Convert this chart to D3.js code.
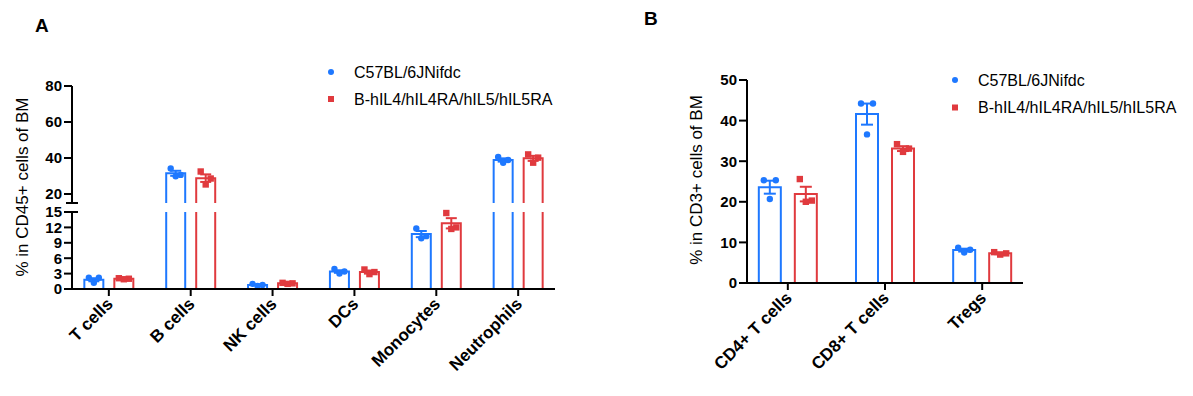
<!DOCTYPE html>
<html>
<head>
<meta charset="utf-8">
<script src="https://cdn.jsdelivr.net/npm/d3@7"></script>
<style>
  html, body { margin: 0; padding: 0; background: #fff; }
  svg { display: block; font-family: "Liberation Sans", Arial, sans-serif; }
  .tick-label { font-size: 15px; font-weight: bold; fill: #000; }
  .cat-label { font-size: 17px; font-weight: bold; fill: #000; }
  .axis-title { font-size: 17px; fill: #000; }
  .legend-text { font-size: 16px; fill: #000; }
  .panel-label { font-size: 19px; font-weight: bold; fill: #000; }
</style>
</head>
<body>
<svg id="chart" width="1193" height="396"></svg>
<script>
/* ──────────────────────────────────────────────
   Bone marrow immune subsets, two strains
   Bars = mean, whiskers = SEM, dots = mice
   ────────────────────────────────────────────── */

const seriesNames = ['C57BL/6JNifdc', 'B-hIL4/hIL4RA/hIL5/hIL5RA'];
const seriesColors = ['#1e78ff', '#e03a3e'];

// Panel A — % in CD45+ cells
const catsA = ['T cells', 'B cells', 'NK cells', 'DCs', 'Monocytes', 'Neutrophils'];
const meanA_wt = [1.8, 31.5, 0.8, 3.4, 10.7, 38.9];
const semA_wt  = [0.3, 1.4, 0.1, 0.25, 0.6, 0.9];
const ptsA_wt  = [[2.2, 2.2, 1.2], [34.2, 30.6, 29.8], [1.0, 0.8, 0.6], [3.9, 3.4, 3.0], [11.8, 10.3, 9.9], [40.6, 38.9, 37.3]];
const meanA_ko = [2.0, 28.8, 1.1, 3.3, 12.8, 39.8];
const semA_ko  = [0.1, 2.1, 0.1, 0.3, 1.0, 1.4];
const ptsA_ko  = [[2.1, 2.0, 1.9], [32.5, 28.6, 25.3], [1.2, 1.1, 1.0], [3.8, 3.3, 2.9], [14.8, 12.0, 11.7], [42.0, 40.2, 37.4]];
const ticksA_low  = [0, 3, 6, 9, 12, 15];
const ticksA_high = [20, 40, 60, 80];

// Panel B — % in CD3+ cells
const catsB = ['CD4+ T cells', 'CD8+ T cells', 'Tregs'];
const meanB_wt = [23.6, 41.6, 8.1];
const semB_wt  = [1.6, 2.6, 0.35];
const ptsB_wt  = [[25.3, 25.3, 20.7], [44.2, 44.2, 36.6], [8.7, 8.2, 7.5]];
const meanB_ko = [21.9, 33.1, 7.3];
const semB_ko  = [1.8, 0.6, 0.2];
const ptsB_ko  = [[25.6, 20.3, 20.0], [34.2, 33.1, 32.3], [7.6, 7.3, 7.0]];
const ticksB = [0, 10, 20, 30, 40, 50];

const svg = d3.select('#chart');
const LW = 2;

function buildGroups(cats, wtMean, wtSem, wtPts, koMean, koSem, koPts) {
  return cats.map((c, i) => ({
    cat: c,
    series: [
      { s: 0, mean: wtMean[i], sem: wtSem[i], pts: wtPts[i] },
      { s: 1, mean: koMean[i], sem: koSem[i], pts: koPts[i] }
    ]
  }));
}

// segs: list of y scales, one per drawn axis segment (more than one = broken axis)
function yOf(segs, v) {
  for (const s of segs) {
    const [lo, hi] = s.domain();
    if (v <= hi) return s(v);
  }
  return segs[segs.length - 1](v);
}

function drawBars(g, opt) {
  const { x, segs, groups, barW, offset, capW, jitter } = opt;
  groups.forEach(gr => {
    gr.series.forEach(d => {
      const cx = x(gr.cat) + (d.s === 0 ? -offset : offset);
      const x0 = cx - barW / 2, x1 = cx + barW / 2;
      const col = seriesColors[d.s];

      // open bar, drawn piecewise so the gap of a broken axis stays empty
      segs.forEach(sc => {
        const [lo, hi] = sc.domain();
        if (d.mean <= lo) return;
        const top = Math.min(d.mean, hi);
        const yb = sc(lo), yt = sc(top);
        const p = d3.path();
        p.moveTo(x0, yb); p.lineTo(x0, yt);
        if (top === d.mean) p.lineTo(x1, yt); else p.moveTo(x1, yt);
        p.lineTo(x1, yb);
        g.append('path').attr('d', p.toString())
          .attr('fill', 'none').attr('stroke', col).attr('stroke-width', LW);
      });

      // SEM whisker with caps at both ends
      const e0 = yOf(segs, d.mean - d.sem), e1 = yOf(segs, d.mean + d.sem);
      g.append('line').attr('x1', cx).attr('x2', cx).attr('y1', e0).attr('y2', e1)
        .attr('stroke', col).attr('stroke-width', LW);
      [e0, e1].forEach(ey => g.append('line')
        .attr('x1', cx - capW / 2).attr('x2', cx + capW / 2).attr('y1', ey).attr('y2', ey)
        .attr('stroke', col).attr('stroke-width', LW));

      // individual mice
      d.pts.forEach((v, j) => {
        const px = cx + jitter[j], py = yOf(segs, v);
        if (d.s === 0) {
          g.append('circle').attr('cx', px).attr('cy', py).attr('r', 3.2).attr('fill', col);
        } else {
          g.append('rect').attr('x', px - 3.2).attr('y', py - 3.2)
            .attr('width', 6.4).attr('height', 6.4).attr('fill', col);
        }
      });
    });
  });
}

function drawXAxis(g, x, cats, axX, axEnd, baseY) {
  g.append('line').attr('x1', axX - 1).attr('x2', axEnd)
    .attr('y1', baseY).attr('y2', baseY).attr('stroke', '#000').attr('stroke-width', LW);
  cats.forEach(c => {
    g.append('line').attr('x1', x(c)).attr('x2', x(c)).attr('y1', baseY).attr('y2', baseY + 7)
      .attr('stroke', '#000').attr('stroke-width', LW);
    g.append('text').attr('class', 'cat-label')
      .attr('text-anchor', 'end')
      .attr('transform', `translate(${x(c) + 5},${baseY + 16}) rotate(-45)`)
      .text(c);
  });
}

function drawYAxis(g, axX, segs, tickSets, title, titleX, titleY) {
  segs.forEach((sc, k) => {
    const [lo, hi] = sc.domain();
    g.append('line').attr('x1', axX).attr('x2', axX).attr('y1', sc(lo) + (k === 0 ? 1 : 0)).attr('y2', sc(hi))
      .attr('stroke', '#000').attr('stroke-width', LW);
    tickSets[k].forEach(t => {
      g.append('line').attr('x1', axX - 8).attr('x2', axX).attr('y1', sc(t)).attr('y2', sc(t))
        .attr('stroke', '#000').attr('stroke-width', LW);
      g.append('text').attr('class', 'tick-label')
        .attr('x', axX - 10).attr('y', sc(t)).attr('dy', '0.36em')
        .attr('text-anchor', 'end').text(t);
    });
  });
  // break marks: short caps on both sides of the gap
  for (let k = 1; k < segs.length; k++) {
    const yBot = segs[k](segs[k].domain()[0]);
    const yTop = segs[k - 1](segs[k - 1].domain()[1]);
    [yBot, yTop].forEach(yy => g.append('line')
      .attr('x1', axX - 6).attr('x2', axX + 6).attr('y1', yy).attr('y2', yy)
      .attr('stroke', '#000').attr('stroke-width', LW));
  }
  g.append('text').attr('class', 'axis-title')
    .attr('text-anchor', 'middle')
    .attr('transform', `translate(${titleX},${titleY}) rotate(-90)`)
    .text(title);
}

function drawLegend(g, lx, ly, gap) {
  seriesNames.forEach((name, i) => {
    const yy = ly + i * gap;
    if (i === 0) g.append('circle').attr('cx', lx).attr('cy', yy).attr('r', 3).attr('fill', seriesColors[i]);
    else g.append('rect').attr('x', lx - 3).attr('y', yy - 3).attr('width', 6).attr('height', 6).attr('fill', seriesColors[i]);
    g.append('text').attr('class', 'legend-text')
      .attr('x', lx + 23).attr('y', yy).attr('dy', '0.36em').text(name);
  });
}

// ── Panel A (broken y axis) ──
{
  const g = svg.append('g');
  const axX = 72, axEnd = 555, baseY = 289;
  const segs = [
    d3.scaleLinear().domain([0, 15]).range([baseY, 212]),
    d3.scaleLinear().domain([15, 80]).range([203, 86])
  ];
  const x = d3.scalePoint().domain(catsA).range([axX, axEnd]).padding(0.45);
  const groups = buildGroups(catsA, meanA_wt, semA_wt, ptsA_wt, meanA_ko, semA_ko, ptsA_ko);

  drawBars(g, { x, segs, groups, barW: 19, offset: 15, capW: 11, jitter: [-5, 5, 0] });
  drawXAxis(g, x, catsA, axX, axEnd, baseY);
  drawYAxis(g, axX, segs, [ticksA_low, ticksA_high], '% in CD45+ cells of BM', 28, 187);
  drawLegend(g, 331, 72, 27);
  svg.append('text').attr('class', 'panel-label').attr('x', 35).attr('y', 32).text('A');
}

// ── Panel B ──
{
  const g = svg.append('g');
  const axX = 747, axEnd = 1023, baseY = 283;
  const segs = [d3.scaleLinear().domain([0, 50]).range([baseY, 80])];
  const x = d3.scalePoint().domain(catsB).range([axX, axEnd]).padding(0.42);
  const groups = buildGroups(catsB, meanB_wt, semB_wt, ptsB_wt, meanB_ko, semB_ko, ptsB_ko);

  drawBars(g, { x, segs, groups, barW: 22, offset: 18, capW: 12, jitter: [-6, 6, 0] });
  drawXAxis(g, x, catsB, axX, axEnd, baseY);
  drawYAxis(g, axX, segs, [ticksB], '% in CD3+ cells of BM', 702, 180);
  drawLegend(g, 955, 80, 27.5);
  svg.append('text').attr('class', 'panel-label').attr('x', 644).attr('y', 25).text('B');
}
</script>
</body>
</html>
